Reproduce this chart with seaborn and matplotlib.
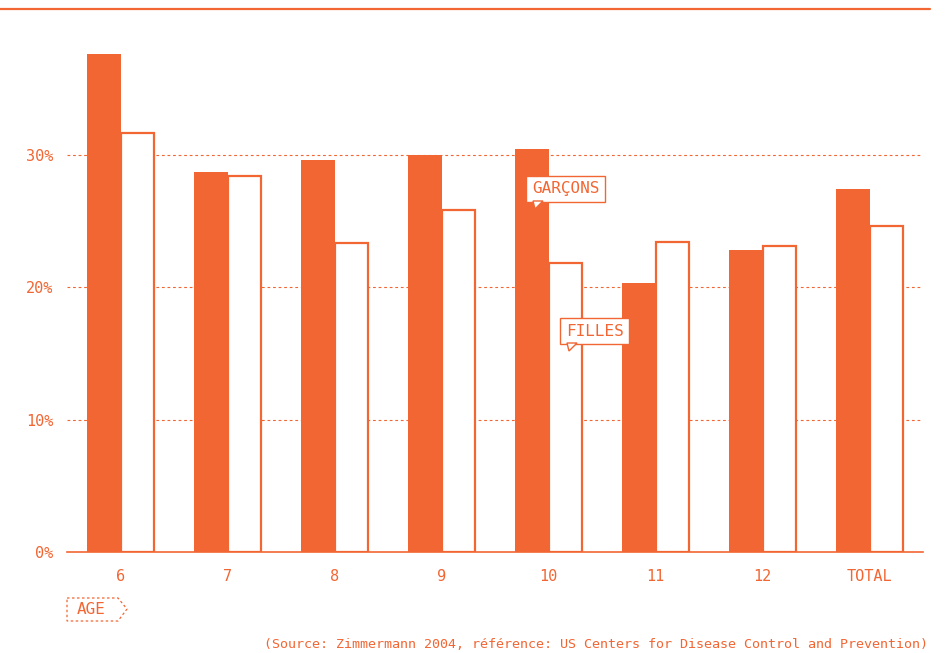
import pandas as pd
import matplotlib.pyplot as plt
import seaborn as sns
from matplotlib.patches import Polygon
from matplotlib.lines import Line2D

# values (percent)
ages = ["6", "7", "8", "9", "10", "11", "12", "TOTAL"]
garcons = [37.6, 28.7, 29.6, 30.0, 30.4, 20.3, 22.8, 27.4]
filles = [31.6, 28.4, 23.3, 25.8, 21.8, 23.4, 23.1, 24.6]
yticks = [0, 10, 20, 30]
ytick_labels = ["0%", "10%", "20%", "30%"]

orange = "#F26633"
mono = "DejaVu Sans Mono"

df = pd.DataFrame({
    "age": ages * 2,
    "pct": garcons + filles,
    "sexe": ["GARÇONS"] * len(ages) + ["FILLES"] * len(ages),
})

sns.set_style("white")
plt.rcParams["font.family"] = [mono, "DejaVu Sans"]

fig = plt.figure(figsize=(9.47, 6.53), dpi=100)
ax = fig.add_axes([67 / 947, 101 / 653, 856 / 947, 543 / 653])

sns.barplot(data=df, x="age", y="pct", hue="sexe", order=ages,
            hue_order=["GARÇONS", "FILLES"], palette=[orange, "white"],
            width=0.62, gap=0, saturation=1, legend=False, ax=ax, zorder=3)

for bar in ax.containers[0]:
    bar.set_edgecolor(orange)
    bar.set_linewidth(0)
for bar in ax.containers[1]:
    bar.set_facecolor("white")
    bar.set_edgecolor(orange)
    bar.set_linewidth(1.6)

ax.set_xlim(-0.5, 7.5)
ax.set_ylim(0, 41)
ax.set_yticks(yticks)
ax.set_yticklabels(ytick_labels)
ax.set_xlabel("")
ax.set_ylabel("")

for y in yticks[1:]:
    ax.axhline(y, color=orange, lw=0.8, ls=(0, (2.5, 2.5)), zorder=1)

for side in ["left", "right", "top"]:
    ax.spines[side].set_visible(False)
ax.spines["bottom"].set_color(orange)
ax.spines["bottom"].set_linewidth(1.2)
ax.spines["bottom"].set_zorder(4)

# top rule across the page
fig.lines.append(Line2D([0, 930 / 947], [1 - 9 / 653] * 2, transform=fig.transFigure,
                        color=orange, lw=1.6))

ax.tick_params(axis="both", length=0, colors=orange, labelsize=11)
ax.tick_params(axis="x", pad=12)
ax.tick_params(axis="y", pad=10)

# callouts
def callout(x, y, text):
    ax.annotate(text, xy=(x, y), xycoords="figure pixels", fontsize=11.5,
                color=orange, ha="left", va="center", fontfamily=mono,
                bbox=dict(boxstyle="square,pad=0.35", fc="white", ec=orange, lw=1.0),
                zorder=6)

callout(532, 653 - 189, "GARÇONS")
callout(566, 653 - 331, "FILLES")
# little speech tails
for bx, by in [(533, 653 - 201), (567, 653 - 343)]:
    tail = Polygon([(bx, by), (bx + 10, by), (bx + 2, by - 8)], closed=True,
                   transform=None, fc="white", ec=orange, lw=1.0, zorder=7)
    fig.patches.append(tail)

# AGE tag with dashed arrow-shaped outline
tag = Polygon([(67, 653 - 598), (118, 653 - 598), (127, 653 - 609),
               (118, 653 - 621), (67, 653 - 621)], closed=True, transform=None,
              fill=False, ec=orange, lw=0.9, ls=(0, (2, 2)))
fig.patches.append(tag)
fig.text(77 / 947, 1 - 610 / 653, "AGE", color=orange, fontsize=11.5,
         ha="left", va="center", fontfamily=mono)

fig.text(928 / 947, 1 - 645 / 653,
         "(Source: Zimmermann 2004, référence: US Centers for Disease Control and Prevention)",
         color=orange, fontsize=9.6, ha="right", va="center", fontfamily=mono)

fig.savefig("out.png", dpi=100)
